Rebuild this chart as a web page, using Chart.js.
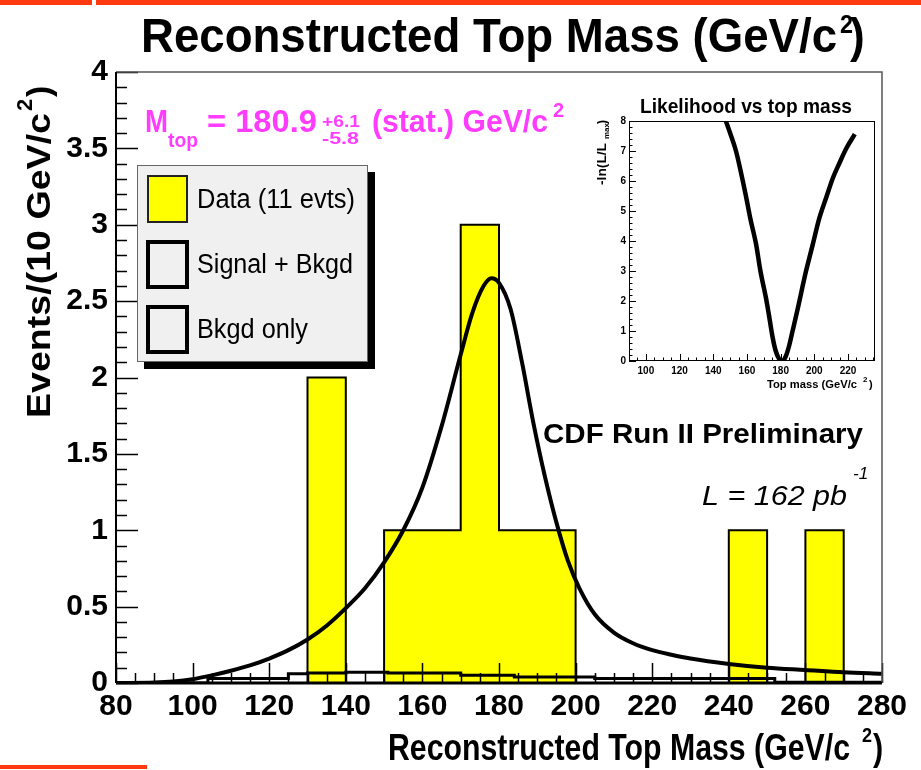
<!DOCTYPE html>
<html><head><meta charset="utf-8">
<script src="https://cdn.jsdelivr.net/npm/chart.js@4.4.1/dist/chart.umd.min.js"></script>
<style>
html,body{margin:0;padding:0;background:#fff;}
#wrap{position:relative;width:921px;height:770px;overflow:hidden;}
#main{position:absolute;left:0;top:0;}
#inset{position:absolute;left:580px;top:85px;}
</style></head><body>
<div id="wrap"><canvas id="main" width="921" height="770"></canvas><canvas id="inset" width="320" height="320"></canvas></div>
<script>
const FF = "'Liberation Sans', Arial, Helvetica, sans-serif";

// ---- Data histogram (10 GeV/c^2 bins) ----
const binCenters = [85,95,105,115,125,135,145,155,165,175,185,195,205,215,225,235,245,255,265,275];
const dataCounts = [0,0,0,0,0,2,0,1,1,3,1,1,0,0,0,0,1,0,1,0];

// ---- Signal + Bkgd fitted curve ----
const sbMass  = [80,90,95,100,105,110,115,120,125,130,135,140,145,150,155,160,165,170,173,176,178,180,183,186,189,192,195,198,201,205,210,215,220,225,230,240,250,260,270,280];
const sbValue = [0,0.003,0.01,0.025,0.05,0.08,0.115,0.16,0.215,0.285,0.375,0.49,0.62,0.79,1.0,1.28,1.68,2.15,2.42,2.6,2.65,2.62,2.45,2.1,1.7,1.35,1.05,0.8,0.62,0.45,0.33,0.26,0.215,0.185,0.16,0.125,0.10,0.085,0.07,0.06];

// ---- Bkgd only (step) ----
const bkgdEdges  = [80,104,125,130,140,151,170,184,205,252,280];
const bkgdValues = [0,0.03,0.06,0.065,0.07,0.065,0.05,0.04,0.03,0.005];

// ---- Inset: likelihood vs top mass ----
const llMass  = [147.5,150,153.5,156,159.4,162,165.4,168,171.3,173,175.2,177,179,181,183,185,187,190,195,199,203,207,211,215,219,224];
const llValue = [8.0,7.6,7.0,6.4,5.5,4.75,3.9,3.0,2.1,1.55,0.8,0.35,0.08,0.0,0.15,0.5,0.98,1.71,2.98,3.87,4.77,5.44,6.1,6.61,7.09,7.56];

// ---- Tick labels ----
const xTickValues = [80,100,120,140,160,180,200,220,240,260,280];
const yTickValues = [0,0.5,1,1.5,2,2.5,3,3.5,4];
const insetXTicks = [100,120,140,160,180,200,220];
const insetYTicks = [0,1,2,3,4,5,6,7,8];

// derived point lists
const dataOutline = binCenters.map((c,i)=>({x:c-5,y:dataCounts[i]}));
dataOutline.push({x:280,y:0});
const bkgdPts = bkgdValues.map((v,i)=>({x:bkgdEdges[i],y:v}));
bkgdPts.push({x:bkgdEdges[bkgdEdges.length-1], y:bkgdValues[bkgdValues.length-1]});

function txt(ctx, s, x, y, size, o) {
  o = o || {};
  ctx.save();
  ctx.font = (o.italic?'italic ':'') + (o.bold===false?'':'bold ') + size + 'px ' + FF;
  ctx.fillStyle = o.color || '#000';
  ctx.textBaseline = 'alphabetic';
  ctx.textAlign = 'left';
  const w = ctx.measureText(s).width;
  const sx = o.width ? o.width / w : (o.sx || 1);
  ctx.translate(x, y);
  if (o.rot) ctx.rotate(o.rot);
  ctx.scale(sx, 1);
  ctx.fillText(s, 0, 0);
  ctx.restore();
  return w * sx;
}

const mainDecor = {
  id: 'mainDecor',
  afterDatasetsDraw(chart) {
    const ctx = chart.ctx, xs = chart.scales.x, ys = chart.scales.y, a = chart.chartArea;
    ctx.save();
    ctx.strokeStyle = '#000';
    ctx.lineWidth = 1.5;
    ctx.beginPath();
    for (let m = 80; m <= 280; m += 5) {
      const px = Math.round(xs.getPixelForValue(m)) + 0.5;
      const len = (m % 20 === 0) ? 20 : 10;
      ctx.moveTo(px, a.bottom); ctx.lineTo(px, a.bottom - len);
    }
    for (let k = 0; k <= 40; k++) {
      const v = k / 10;
      const py = Math.round(ys.getPixelForValue(v)) + 0.5;
      const len = (k % 5 === 0) ? 22 : 11;
      ctx.moveTo(a.left, py); ctx.lineTo(a.left + len, py);
    }
    ctx.stroke();
    // frame
    ctx.strokeStyle = '#555'; ctx.lineWidth = 1.5;
    ctx.beginPath();
    ctx.moveTo(a.left, a.top); ctx.lineTo(a.right, a.top); ctx.lineTo(a.right, a.bottom);
    ctx.stroke();
    ctx.strokeStyle = '#000'; ctx.lineWidth = 2;
    ctx.beginPath(); ctx.moveTo(a.left, a.top); ctx.lineTo(a.left, a.bottom); ctx.stroke();
    ctx.lineWidth = 3;
    ctx.beginPath(); ctx.moveTo(a.left, a.bottom); ctx.lineTo(a.right, a.bottom); ctx.stroke();
    ctx.restore();
  },
  afterDraw(chart) {
    const ctx = chart.ctx;
    // slide decorations
    ctx.save();
    ctx.fillStyle = '#ff3a10';
    ctx.fillRect(0, 0, 92, 5); ctx.fillRect(96, 0, 825, 5);
    ctx.fillRect(0, 765, 147, 4);
    ctx.restore();
    // title
    txt(ctx, 'Reconstructed Top Mass (GeV/c', 141, 52, 48, {width: 696});
    txt(ctx, '2', 840, 33, 26, {sx: 0.9});
    txt(ctx, ')', 850, 52, 48, {sx: 0.92});
    // y axis title
    ctx.save();
    ctx.translate(50, 418); ctx.rotate(-Math.PI/2);
    txt(ctx, 'Events/(10 GeV/c', 0, 0, 34, {width: 305});
    txt(ctx, '2', 307, -18, 22);
    txt(ctx, ')', 321, 0, 34);
    ctx.restore();
    // x axis title
    txt(ctx, 'Reconstructed Top Mass (GeV/c', 388, 760, 36, {width: 462});
    txt(ctx, '2', 862, 742, 20, {sx: 0.9});
    txt(ctx, ')', 873, 760, 36, {sx: 0.85});
    // M_top annotation
    const mag = '#ff3cff';
    txt(ctx, 'M', 145, 132, 32, {color: mag, width: 23});
    txt(ctx, 'top', 168, 147, 21, {color: mag, width: 30});
    txt(ctx, '= 180.9', 207, 132, 32, {color: mag, width: 110});
    txt(ctx, '+6.1', 322, 127, 17, {color: mag, width: 38});
    txt(ctx, '-5.8', 322, 144, 17, {color: mag, width: 37});
    txt(ctx, '(stat.) GeV/c', 372, 132, 32, {color: mag, width: 176});
    txt(ctx, '2', 553, 117, 20, {color: mag});
    // CDF text
    txt(ctx, 'CDF Run II Preliminary', 543, 443, 28, {width: 320});
    txt(ctx, 'L = 162 pb', 702, 505, 28, {italic: true, bold: false, width: 145});
    txt(ctx, '-1', 853, 479, 17, {italic: true, bold: false});
    // legend
    ctx.save();
    ctx.fillStyle = '#000';
    ctx.fillRect(144, 172, 231, 197);
    ctx.fillStyle = '#f0f0f0';
    ctx.fillRect(137, 165, 231, 197);
    ctx.strokeStyle = '#666'; ctx.lineWidth = 1;
    ctx.strokeRect(137.5, 165.5, 230, 196);
    ctx.fillStyle = '#ffff00';
    ctx.fillRect(147, 175, 41, 48);
    ctx.strokeStyle = '#222'; ctx.lineWidth = 2;
    ctx.strokeRect(148, 176, 39, 46);
    ctx.strokeStyle = '#000'; ctx.lineWidth = 4;
    ctx.strokeRect(148, 242, 39, 45);
    ctx.strokeRect(148, 307, 39, 45);
    ctx.restore();
    txt(ctx, 'Data (11 evts)', 197, 208, 27, {bold: false, width: 158});
    txt(ctx, 'Signal + Bkgd', 197, 273, 27, {bold: false, width: 156});
    txt(ctx, 'Bkgd only', 197, 338, 27, {bold: false, width: 111});
  }
};

new Chart(document.getElementById('main'), {
  type: 'bar',
  data: {
    datasets: [
      {type: 'line', label: 'Signal + Bkgd', data: sbMass.map((m,i)=>({x:m, y:sbValue[i]})),
       borderColor: '#000', borderWidth: 4, pointRadius: 0, cubicInterpolationMode: 'monotone', fill: false, order: 0},
      {type: 'line', label: 'Bkgd only', data: bkgdPts, stepped: 'before',
       borderColor: '#000', borderWidth: 3, pointRadius: 0, fill: false, order: 1},
      {type: 'line', label: 'Data outline', data: dataOutline, stepped: 'before',
       borderColor: '#000', borderWidth: 2, pointRadius: 0, fill: false, order: 2},
      {type: 'bar', label: 'Data (11 evts)', data: binCenters.map((c,i)=>({x:c, y:dataCounts[i]})),
       backgroundColor: '#ffff00', borderWidth: 0, barPercentage: 1, categoryPercentage: 1, order: 3}
    ]
  },
  options: {
    responsive: false, animation: false, devicePixelRatio: 1,
    layout: {padding: {top: 72, right: 39, left: 0, bottom: 0}},
    plugins: {legend: {display: false}, tooltip: {enabled: false}, title: {display: false}},
    scales: {
      x: {type: 'linear', min: 80, max: 280, offset: false,
          grid: {display: false, drawTicks: false}, border: {display: false},
          afterBuildTicks: s => { s.ticks = xTickValues.map(v => ({value: v})); },
          ticks: {padding: 6, color: '#000', maxRotation: 0, autoSkip: false,
                  callback: v => String(v),
                  font: {family: FF, size: 30, weight: 'bold'}},
          afterFit: s => { s.height = 87; }},
      y: {type: 'linear', min: 0, max: 4,
          grid: {display: false, drawTicks: false}, border: {display: false},
          afterBuildTicks: s => { s.ticks = yTickValues.map(v => ({value: v})); },
          ticks: {padding: 8, color: '#000', autoSkip: false,
                  callback: v => String(v),
                  font: {family: FF, size: 30, weight: 'bold'}},
          afterFit: s => { s.width = 116; }}
    }
  },
  plugins: [mainDecor]
});

const insetDecor = {
  id: 'insetDecor',
  beforeDraw(chart) {
    const ctx = chart.ctx, a = chart.chartArea;
    ctx.save(); ctx.fillStyle = '#fff'; ctx.fillRect(a.left, a.top, a.right - a.left, a.bottom - a.top); ctx.restore();
  },
  afterDraw(chart) {
    const ctx = chart.ctx, a = chart.chartArea, xs = chart.scales.x, ys = chart.scales.y;
    ctx.save();
    ctx.strokeStyle = '#000'; ctx.lineWidth = 1;
    ctx.strokeRect(a.left + 0.5, a.top + 0.5, a.right - a.left - 1, a.bottom - a.top - 1);
    ctx.beginPath();
    for (let m = 90; m <= 235; m += 5) {
      const px = Math.round(xs.getPixelForValue(m)) + 0.5;
      const len = (m % 20 === 0) ? 7 : 3.5;
      ctx.moveTo(px, a.bottom); ctx.lineTo(px, a.bottom - len);
    }
    for (let k = 0; k <= 40; k++) {
      const py = Math.round(ys.getPixelForValue(k / 5)) + 0.5;
      const len = (k % 5 === 0) ? 7 : 3.5;
      ctx.moveTo(a.left, py); ctx.lineTo(a.left + len, py);
    }
    ctx.stroke();
    ctx.restore();
    txt(ctx, 'Likelihood vs top mass', 60, 28, 21, {width: 212});
    ctx.save();
    ctx.translate(26, 100); ctx.rotate(-Math.PI/2);
    txt(ctx, '-ln(L/L', 0, 0, 12, {width: 42});
    txt(ctx, 'max', 46, 3, 8);
    txt(ctx, ')', 61, 0, 12);
    ctx.restore();
    txt(ctx, 'Top mass (GeV/c', 187, 303, 11, {width: 90});
    txt(ctx, '2', 283, 297, 8);
    txt(ctx, ')', 289, 303, 11);
  }
};

new Chart(document.getElementById('inset'), {
  type: 'line',
  data: {
    datasets: [{label: '-ln(L/Lmax)', data: llMass.map((m,i)=>({x:m, y:llValue[i]})),
      borderColor: '#000', borderWidth: 4.5, pointRadius: 0, cubicInterpolationMode: 'monotone', fill: false}]
  },
  options: {
    responsive: false, animation: false, devicePixelRatio: 1,
    layout: {padding: {top: 36, right: 25, left: 0, bottom: 0}},
    plugins: {legend: {display: false}, tooltip: {enabled: false}},
    scales: {
      x: {type: 'linear', min: 90, max: 236,
          grid: {display: false, drawTicks: false}, border: {display: false},
          afterBuildTicks: s => { s.ticks = insetXTicks.map(v => ({value: v})); },
          ticks: {padding: 4, color: '#000', maxRotation: 0, autoSkip: false,
                  callback: v => String(v),
                  font: {family: FF, size: 10, weight: 'bold'}},
          afterFit: s => { s.height = 44; }},
      y: {type: 'linear', min: 0, max: 8,
          grid: {display: false, drawTicks: false}, border: {display: false},
          afterBuildTicks: s => { s.ticks = insetYTicks.map(v => ({value: v})); },
          ticks: {padding: 3, color: '#000', autoSkip: false,
                  callback: v => String(v),
                  font: {family: FF, size: 10, weight: 'bold'}},
          afterFit: s => { s.width = 49; }}
    }
  },
  plugins: [insetDecor]
});
</script>
</body></html>
